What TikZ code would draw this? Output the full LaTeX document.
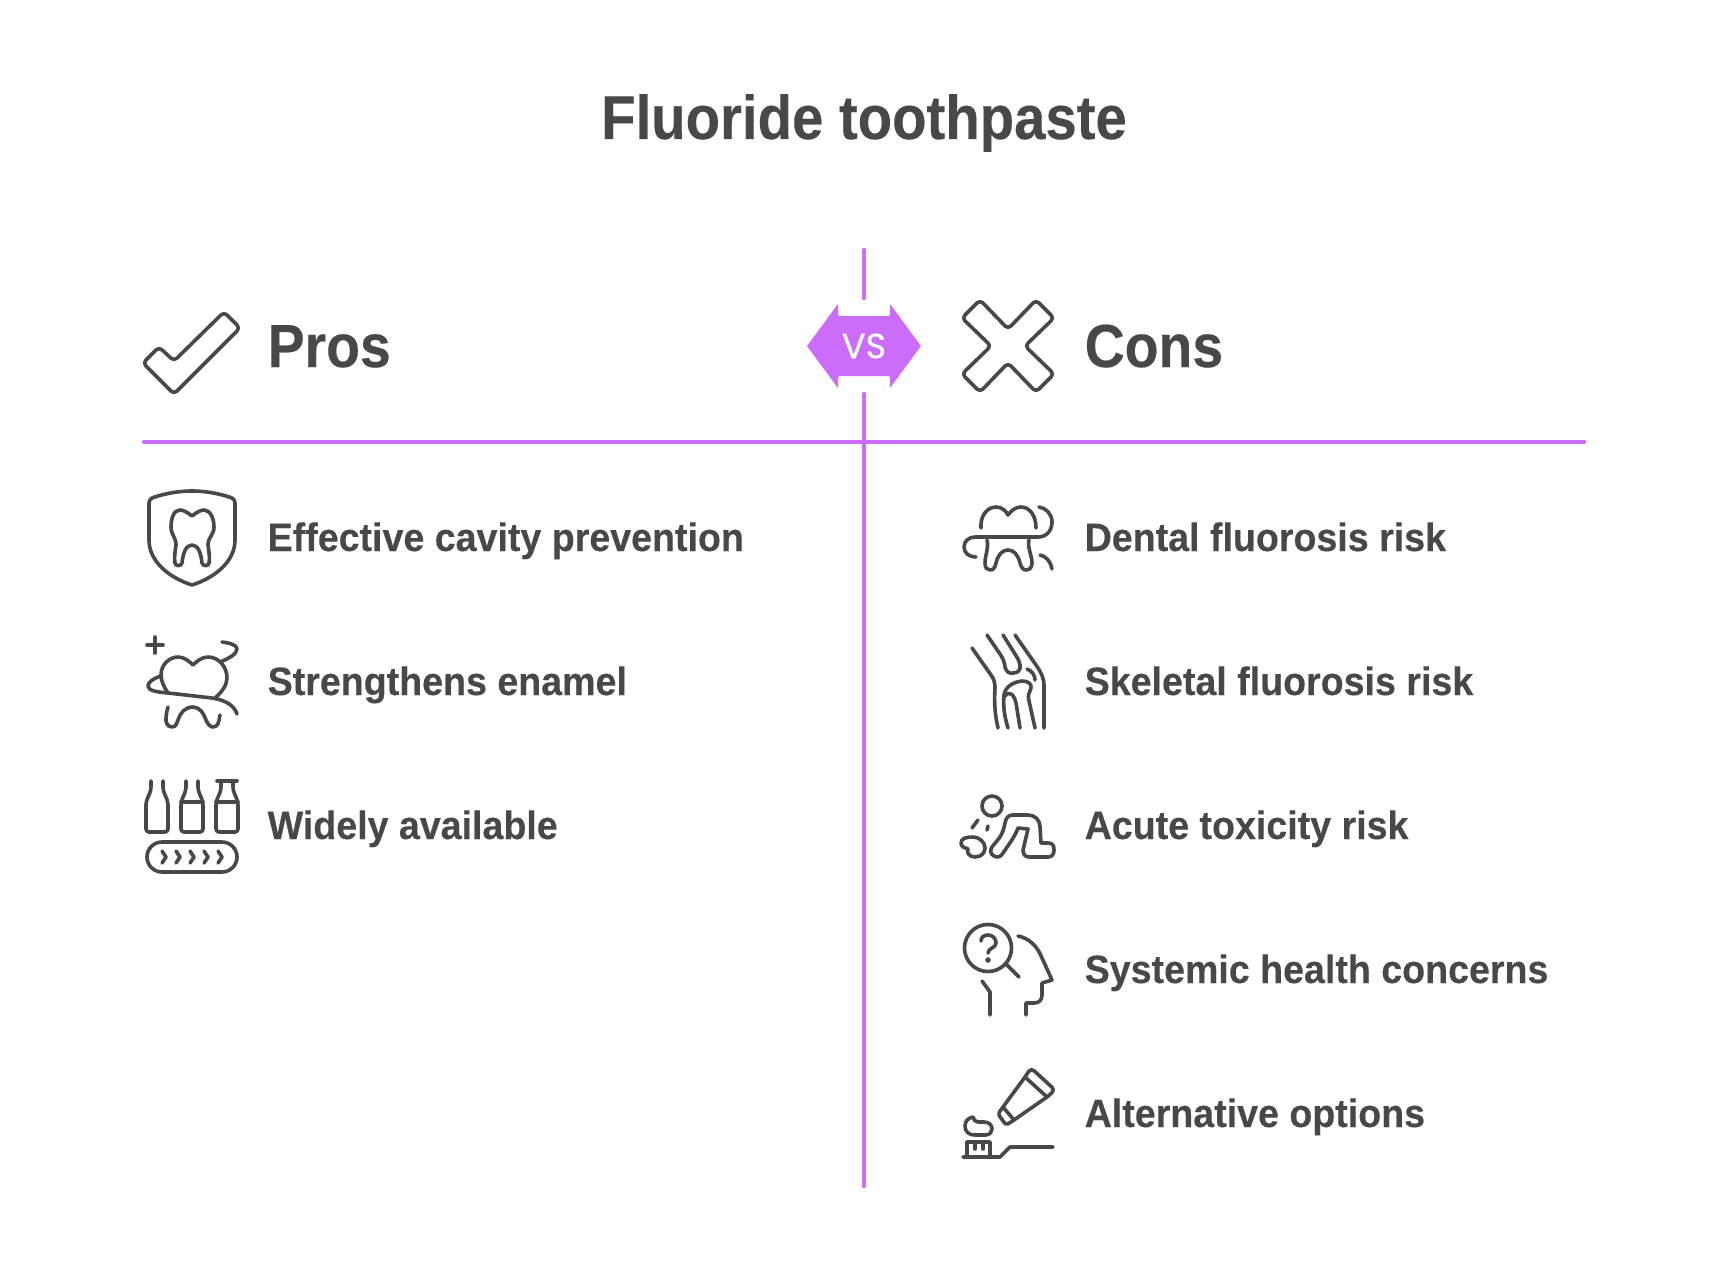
\documentclass[tikz,border=0pt]{standalone}
\usepackage{xcolor}
\usepackage{fontspec}
\setmainfont{Liberation Sans}[FakeStretch=0.93]
\newfontfamily\itemfont{Liberation Sans Bold}[FakeStretch=0.95,FakeBold=0.25]
\newfontfamily\headfont{Liberation Sans Bold}[FakeStretch=0.91,FakeBold=0.25]
\newfontfamily\vsfont{Poppins}[FakeBold=0.4]
\definecolor{inkcolor}{HTML}{484848}
\definecolor{axiscolor}{HTML}{CB6CFB}
\tikzset{
  iconline/.style={draw=inkcolor, line width=0.036cm, line cap=round, line join=round},
  axisline/.style={draw=axiscolor, line width=0.045cm, line cap=round},
  titletext/.style={anchor=base, inner sep=0pt, text=inkcolor, font=\fontsize{17.6pt}{20pt}\selectfont\headfont},
  headtext/.style={anchor=base west, inner sep=0pt, text=inkcolor, font=\fontsize{17.3pt}{20pt}\selectfont\headfont},
  itemtext/.style={anchor=base west, inner sep=0pt, text=inkcolor, font=\fontsize{11.25pt}{13pt}\selectfont\itemfont},
}
\begin{document}
\begin{tikzpicture}[x=0.01cm, y=-0.01cm]
\useasboundingbox (0,0) rectangle (1728,1273);
\fill[white] (0,0) rectangle (1728,1273);

\coordinate (axistop) at (864,250);
\coordinate (axisgaptop) at (864,298);
\coordinate (axisgapbottom) at (864,394);
\coordinate (axisbottom) at (864,1186);
\coordinate (ruleleft) at (144,442);
\coordinate (ruleright) at (1584,442);
\draw[axisline] (axistop) -- (axisgaptop);
\draw[axisline] (axisgapbottom) -- (axisbottom);
\draw[axisline] (ruleleft) -- (ruleright);

\fill[axiscolor] (807,346) -- (838,304) -- (838,314) .. controls (838,315.5) and (839,316) .. (840,316) -- (888,316) .. controls (889,316) and (890,315.5) .. (890,314) -- (890,304) -- (921,346) -- (890,388) -- (890,378) .. controls (890,376.5) and (889,376) .. (888,376) -- (840,376) .. controls (839,376) and (838,376.5) .. (838,378) -- (838,388) -- cycle;
\node[inner sep=0pt, text=white, font=\fontsize{10pt}{12pt}\selectfont\vsfont] (vslabel) at (864,346) {VS};

\node[titletext] (title) at (864,139) {Fluoride toothpaste};
\node[headtext] (pros) at (267,367) {Pros};
\node[headtext] (cons) at (1084,367) {Cons};

\node[itemtext] (proone) at (267,551) {Effective cavity prevention};
\node[itemtext] (protwo) at (267,695) {Strengthens enamel};
\node[itemtext] (prothree) at (267,839) {Widely available};
\node[itemtext] (conone) at (1084,551) {Dental fluorosis risk};
\node[itemtext] (contwo) at (1084,695) {Skeletal fluorosis risk};
\node[itemtext] (conthree) at (1084,839) {Acute toxicity risk};
\node[itemtext] (confour) at (1084,983) {Systemic health concerns};
\node[itemtext] (confive) at (1084,1127) {Alternative options};

% check and cross
\draw[iconline, rounded corners=0.04cm] (174,361) -- (224,312) -- (240,328) -- (174,394) -- (143,363) -- (159,347) -- cycle;
\draw[iconline, rounded corners=0.04cm] (1008,329) -- (1036,300) -- (1054,318) -- (1025,346) -- (1054,374) -- (1036,392) -- (1008,363) -- (980,392) -- (962,374) -- (991,346) -- (962,318) -- (980,300) -- cycle;

% shield tooth
\draw[iconline] (192,491) .. controls (175,491) and (160,495) .. (152,498) .. controls (150,499) and (149,501) .. (149,503) -- (149,540) .. controls (149,562) and (170,578) .. (192,585) .. controls (214,578) and (235,562) .. (235,540) -- (235,503) .. controls (235,501) and (234,499) .. (232,498) .. controls (224,495) and (209,491) .. (192,491) -- cycle;
\draw[iconline] (192,516) .. controls (187,512) and (183,510) .. (180,510) .. controls (174,510) and (171,518) .. (171,527) .. controls (171,535) and (176,537) .. (176,545) .. controls (175,552) and (174,558) .. (175,563) .. controls (175,566) and (181,567) .. (182,563) .. controls (183,553) and (186,545) .. (192,545) .. controls (198,545) and (201,553) .. (202,563) .. controls (203,567) and (209,566) .. (209,563) .. controls (210,558) and (209,552) .. (208,545) .. controls (208,537) and (214,535) .. (214,527) .. controls (214,518) and (210,510) .. (204,510) .. controls (201,510) and (197,512) .. (192,516) -- cycle;

% enamel tooth
\draw[iconline] (147,645) -- (163,645);
\draw[iconline] (155,637) -- (155,653);
\draw[iconline] (168,693) .. controls (164,687) and (161,681) .. (161,675) .. controls (161,664) and (170,657) .. (178,657) .. controls (184,657) and (189,661) .. (193,665) .. controls (197,661) and (202,657) .. (208,657) .. controls (219,657) and (227,667) .. (227,678) .. controls (227,685) and (222,692) .. (215,698);
\draw[iconline] (222,642) .. controls (230,643) and (237,645) .. (237,649) .. controls (237,654) and (228,659) .. (220,662);
\draw[iconline] (161,676) .. controls (154,678) and (148,682) .. (148,686) .. controls (148,691) and (158,692) .. (168,693) -- (212,698) .. controls (225,700) and (234,705) .. (237,714);
\draw[iconline] (168,707) .. controls (166,713) and (166,718) .. (166,721) .. controls (167,726) and (170,727) .. (172,727) .. controls (176,727) and (177,723) .. (178,720) .. controls (180,713) and (185,707) .. (193,707) .. controls (200,707) and (204,714) .. (206,720) .. controls (208,725) and (211,727) .. (213,727) .. controls (218,727) and (219,722) .. (220,715);

% bottles on belt
\draw[iconline, rounded corners=0.03cm] (151,781) -- (151,790) -- (146,802) -- (146,832) -- (168,832) -- (168,802) -- (163,790) -- (163,781);
\draw[iconline, rounded corners=0.03cm] (186,781) -- (186,790) -- (181,802) -- (181,832) -- (203,832) -- (203,802) -- (198,790) -- (198,781);
\draw[iconline] (181,802) -- (203,802);
\draw[iconline, rounded corners=0.03cm] (221,781) -- (221,790) -- (216,802) -- (216,832) -- (238,832) -- (238,802) -- (233,790) -- (233,781);
\draw[iconline] (216,802) -- (238,802);
\draw[iconline] (217,781) -- (237,781);
\draw[iconline, rounded corners=0.15cm] (147,842) rectangle (237,872);
\draw[iconline] (162,851) -- (166,857) -- (162,863);
\draw[iconline] (176,851) -- (180,857) -- (176,863);
\draw[iconline] (190,851) -- (194,857) -- (190,863);
\draw[iconline] (204,851) -- (208,857) -- (204,863);
\draw[iconline] (218,851) -- (222,857) -- (218,863);

% dental fluorosis
\draw[iconline] (981,528) .. controls (980,516) and (987,507) .. (996,507) .. controls (1002,507) and (1006,511) .. (1008,515) .. controls (1011,511) and (1015,507) .. (1021,507) .. controls (1030,507) and (1036,516) .. (1036,528);
\draw[iconline] (976,557) .. controls (969,557) and (964,553) .. (964,547) .. controls (964,541) and (969,537) .. (975,537) -- (1038,537) .. controls (1047,537) and (1052,530) .. (1052,522) .. controls (1052,514) and (1046,508) .. (1039,507);
\draw[iconline] (987,540) .. controls (989,548) and (985,555) .. (985,563) .. controls (985,568) and (987,570) .. (990,570) .. controls (994,570) and (995,567) .. (996,563) .. controls (998,555) and (1002,550) .. (1008,550) .. controls (1014,550) and (1018,555) .. (1020,563) .. controls (1021,567) and (1023,570) .. (1026,570) .. controls (1030,570) and (1032,567) .. (1032,563) .. controls (1032,555) and (1027,548) .. (1029,540);
\draw[iconline] (1040,555) .. controls (1046,556) and (1051,562) .. (1052,569);

% knee joint
\draw[iconline] (972,648) -- (991,675) .. controls (994,679) and (995,683) .. (995,688) .. controls (994,703) and (995,715) .. (998,728);
\draw[iconline] (987,635) -- (1000,654) .. controls (1003,658) and (1005,664) .. (1005,667) .. controls (1006,672) and (1010,674) .. (1013,673) .. controls (1018,673) and (1021,670) .. (1020,665) .. controls (1019,660) and (1017,657) .. (1015,654) -- (1003,635);
\draw[iconline] (1015,635) -- (1036,665) .. controls (1041,672) and (1044,678) .. (1044,686) -- (1044,728);
\draw[iconline] (1027,669) .. controls (1032,671) and (1035,675) .. (1035,680);
\draw[iconline] (1008,728) .. controls (1004,715) and (1003,705) .. (1004,695) .. controls (1005,687) and (1013,682) .. (1022,681) .. controls (1028,681) and (1032,684) .. (1031,688) .. controls (1030,692) and (1027,695) .. (1029,701) -- (1035,728);
\draw[iconline] (1005,696) .. controls (1010,690) and (1014,695) .. (1016,703) -- (1020,728);

% toxicity figure
\draw[iconline] (992,806) circle[radius=0.10cm];
\draw[iconline] (978,820) -- (972,828);
\draw[iconline] (988,826) -- (987,830);
\draw[iconline] (973,837) .. controls (967,837) and (961,838) .. (961,843) .. controls (961,847) and (965,848) .. (968,849) .. controls (966,853) and (970,857) .. (975,857) .. controls (981,857) and (985,853) .. (985,848) .. controls (985,842) and (979,837) .. (973,837) -- cycle;
\draw[iconline] (992,847) -- (1000,837) .. controls (1003,832) and (1004,828) .. (1005,823) .. controls (1006,817) and (1009,815) .. (1013,815) -- (1028,815) .. controls (1035,815) and (1040,820) .. (1040,827) -- (1041,843) -- (1048,843) .. controls (1053,843) and (1054,846) .. (1054,850) .. controls (1054,854) and (1052,857) .. (1048,857) -- (1029,857) .. controls (1025,857) and (1023,854) .. (1023,850) -- (1028,829) -- (1018,828) .. controls (1016,834) and (1012,840) .. (1003,853) .. controls (1001,857) and (997,858) .. (994,856) .. controls (990,854) and (990,850) .. (992,847) -- cycle;

% head with magnifier
\draw[iconline] (988,948) circle[radius=0.235cm];
\draw[iconline] (1006,964) -- (1019,977);
\draw[iconline] (981,941) .. controls (981,937) and (984,935) .. (988,935) .. controls (993,935) and (996,939) .. (996,943) .. controls (996,948) and (988,948) .. (988,953);
\fill[inkcolor] (988,960) circle[radius=0.028cm];
\draw[iconline] (1018,936) .. controls (1028,938) and (1037,945) .. (1042,958) -- (1052,980) -- (1042,983) -- (1042,995) .. controls (1042,1000) and (1039,1003) .. (1034,1003) -- (1026,1003) -- (1026,1015);
\draw[iconline] (982,981) -- (990,992) -- (990,1015);

% toothpaste
\draw[iconline, rounded corners=0.04cm] (1025,1077) -- (1031,1068) -- (1055,1090) -- (1047,1097);
\draw[iconline] (1025,1077) -- (1047,1097);
\draw[iconline] (1025,1077) -- (1003,1107) -- (1014,1120) -- (1047,1097);
\draw[iconline, rounded corners=0.02cm] (1003,1107) -- (998,1114) -- (1006,1125) -- (1014,1120);
\draw[iconline] (973,1117) .. controls (968,1118) and (965,1121) .. (965,1126) .. controls (965,1132) and (969,1135) .. (975,1135) -- (985,1135) .. controls (990,1135) and (992,1132) .. (992,1129) .. controls (992,1125) and (989,1122) .. (984,1122) -- (978,1122) .. controls (975,1122) and (974,1120) .. (973,1117);
\draw[iconline] (967,1157) -- (967,1142) -- (990,1142) -- (990,1157);
\draw[iconline] (975,1142) -- (975,1149);
\draw[iconline] (983,1142) -- (983,1149);
\draw[iconline] (963,1157) -- (1000,1157) -- (1010,1147) -- (1053,1147);
\end{tikzpicture}
\end{document}
